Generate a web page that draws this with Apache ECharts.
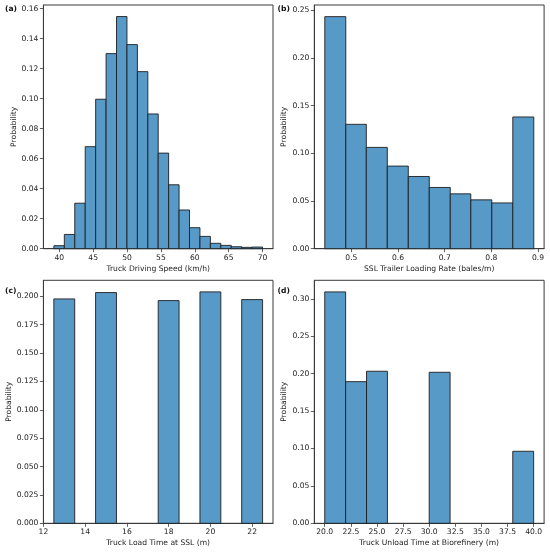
<!DOCTYPE html>
<html>
<head>
<meta charset="utf-8">
<script src="https://cdn.jsdelivr.net/npm/echarts@6/dist/echarts.min.js"></script>
<style>
html,body{margin:0;padding:0;background:#fff;}
#chart{width:550px;height:554px;}
</style>
</head>
<body>
<div id="chart"></div>
<script>
// (a) Truck Driving Speed
const speedEdges = [39.21, 40.75, 42.29, 43.83, 45.37, 46.91, 48.45, 49.99, 51.53, 53.07, 54.60,
  56.14, 57.68, 59.22, 60.76, 62.30, 63.84, 65.38, 66.92, 68.46, 70.00];
const speedProb = [0.0020, 0.0095, 0.0303, 0.0680, 0.0996, 0.1300, 0.1547, 0.1360, 0.1180, 0.0898,
  0.0637, 0.0426, 0.0258, 0.0140, 0.0082, 0.0036, 0.0022, 0.0013, 0.0009, 0.0011];
const speedXTicks = [40, 45, 50, 55, 60, 65, 70];
const speedYTicks = [0, 0.02, 0.04, 0.06, 0.08, 0.10, 0.12, 0.14, 0.16];

// (b) SSL Trailer Loading Rate
const rateEdges = [0.443, 0.488, 0.532, 0.577, 0.622, 0.667, 0.712, 0.756, 0.801, 0.846, 0.891];
const rateProb = [0.2433, 0.1304, 0.1062, 0.0866, 0.0757, 0.0642, 0.0575, 0.0512, 0.0480, 0.1381];
const rateXTicks = [0.5, 0.6, 0.7, 0.8, 0.9];
const rateYTicks = [0, 0.05, 0.10, 0.15, 0.20, 0.25];

// (c) Truck Load Time at SSL
const loadLow = [12.5, 14.5, 17.5, 19.5, 21.5];
const loadHigh = [13.5, 15.5, 18.5, 20.5, 22.5];
const loadProb = [0.1977, 0.2033, 0.1962, 0.2039, 0.1971];
const loadXTicks = [12, 14, 16, 18, 20, 22];
const loadYTicks = [0, 0.025, 0.05, 0.075, 0.10, 0.125, 0.15, 0.175, 0.20];

// (d) Truck Unload Time at Biorefinery
const unloadLow = [20, 22, 24, 30, 38];
const unloadHigh = [22, 24, 26, 32, 40];
const unloadProb = [0.3094, 0.1894, 0.2033, 0.2019, 0.0963];
const unloadXTicks = [20, 22.5, 25, 27.5, 30, 32.5, 35, 37.5, 40];
const unloadYTicks = [0, 0.05, 0.10, 0.15, 0.20, 0.25, 0.30];

const FONT = 'DejaVu Sans';
const TXT = '#222';
const AX = '#3a3a3a';
const FILL = '#5799c7';
const EDGE = '#1e1e1e';
const FS = 7.6;

function edgesToItems(edges, probs) {
  return probs.map((p, i) => [edges[i], edges[i + 1], p]);
}
function lohiToItems(lo, hi, probs) {
  return probs.map((p, i) => [lo[i], hi[i], p]);
}

function renderBar(params, api) {
  const p0 = api.coord([api.value(0), api.value(2)]);
  const p1 = api.coord([api.value(1), 0]);
  return {
    type: 'rect',
    shape: { x: p0[0], y: p0[1], width: p1[0] - p0[0], height: p1[1] - p0[1] },
    style: { fill: FILL, stroke: EDGE, lineWidth: 0.9 }
  };
}

function xAxis(idx, name, min, max, ticks, fmt) {
  return {
    type: 'value', gridIndex: idx, min: min, max: max,
    name: name, nameLocation: 'middle', nameGap: 16,
    nameTextStyle: { fontFamily: FONT, fontSize: FS, color: TXT },
    axisLine: { show: true, lineStyle: { color: AX, width: 1 } },
    axisTick: { show: true, length: 3.5, customValues: ticks, lineStyle: { color: AX, width: 0.8 } },
    axisLabel: { customValues: ticks, formatter: fmt, fontFamily: FONT, fontSize: FS, color: TXT, margin: 5 },
    splitLine: { show: false }
  };
}
function yAxis(idx, min, max, ticks, fmt, gap) {
  return {
    type: 'value', gridIndex: idx, min: min, max: max,
    name: 'Probability', nameLocation: 'middle', nameGap: gap, nameRotate: 90,
    nameTextStyle: { fontFamily: FONT, fontSize: FS, color: TXT },
    axisLine: { show: true, lineStyle: { color: AX, width: 1 } },
    axisTick: { show: true, length: 3.5, customValues: ticks, lineStyle: { color: AX, width: 0.8 } },
    axisLabel: { customValues: ticks, formatter: fmt, fontFamily: FONT, fontSize: FS, color: TXT, margin: 5 },
    splitLine: { show: false }
  };
}

const f0 = v => String(Math.round(v));
const f1 = v => v.toFixed(1);
const f2 = v => v.toFixed(2);
const f3 = v => v.toFixed(3);

const gridBase = { show: true, borderColor: AX, borderWidth: 1, backgroundColor: 'transparent', containLabel: false };

const option = {
  animation: false,
  backgroundColor: '#fff',
  grid: [
    Object.assign({ left: 43.4, top: 5, width: 229.6, height: 243.7 }, gridBase),
    Object.assign({ left: 314.3, top: 5, width: 229.8, height: 243.7 }, gridBase),
    Object.assign({ left: 43.4, top: 280.3, width: 229.6, height: 243.0 }, gridBase),
    Object.assign({ left: 314.3, top: 280.3, width: 229.8, height: 243.0 }, gridBase)
  ],
  xAxis: [
    xAxis(0, 'Truck Driving Speed (km/h)', 37.66, 71.54, speedXTicks, f0),
    xAxis(1, 'SSL Trailer Loading Rate (bales/m)', 0.4205, 0.9131, rateXTicks, f1),
    xAxis(2, 'Truck Load Time at SSL (m)', 12, 23, loadXTicks, f0),
    xAxis(3, 'Truck Unload Time at Biorefinery (m)', 19, 41, unloadXTicks, f1)
  ],
  yAxis: [
    yAxis(0, 0, 0.1624, speedYTicks, f2, 23),
    yAxis(1, 0, 0.2555, rateYTicks, f2, 23),
    yAxis(2, 0, 0.2141, loadYTicks, f3, 27),
    yAxis(3, 0, 0.3249, unloadYTicks, f2, 23)
  ],
  series: [
    { type: 'custom', xAxisIndex: 0, yAxisIndex: 0, renderItem: renderBar, encode: { x: [0, 1], y: 2 }, data: edgesToItems(speedEdges, speedProb) },
    { type: 'custom', xAxisIndex: 1, yAxisIndex: 1, renderItem: renderBar, encode: { x: [0, 1], y: 2 }, data: edgesToItems(rateEdges, rateProb) },
    { type: 'custom', xAxisIndex: 2, yAxisIndex: 2, renderItem: renderBar, encode: { x: [0, 1], y: 2 }, data: lohiToItems(loadLow, loadHigh, loadProb) },
    { type: 'custom', xAxisIndex: 3, yAxisIndex: 3, renderItem: renderBar, encode: { x: [0, 1], y: 2 }, data: lohiToItems(unloadLow, unloadHigh, unloadProb) }
  ],
  graphic: [
    { type: 'text', left: 5, top: 5.5, style: { text: '(a)', fontFamily: FONT, fontSize: FS, fontWeight: 'bold', fill: '#111' } },
    { type: 'text', left: 277.5, top: 5.5, style: { text: '(b)', fontFamily: FONT, fontSize: FS, fontWeight: 'bold', fill: '#111' } },
    { type: 'text', left: 5, top: 287, style: { text: '(c)', fontFamily: FONT, fontSize: FS, fontWeight: 'bold', fill: '#111' } },
    { type: 'text', left: 277.5, top: 287, style: { text: '(d)', fontFamily: FONT, fontSize: FS, fontWeight: 'bold', fill: '#111' } }
  ]
};

const chart = echarts.init(document.getElementById('chart'), null, { renderer: 'canvas' });
chart.setOption(option);
</script>
</body>
</html>
